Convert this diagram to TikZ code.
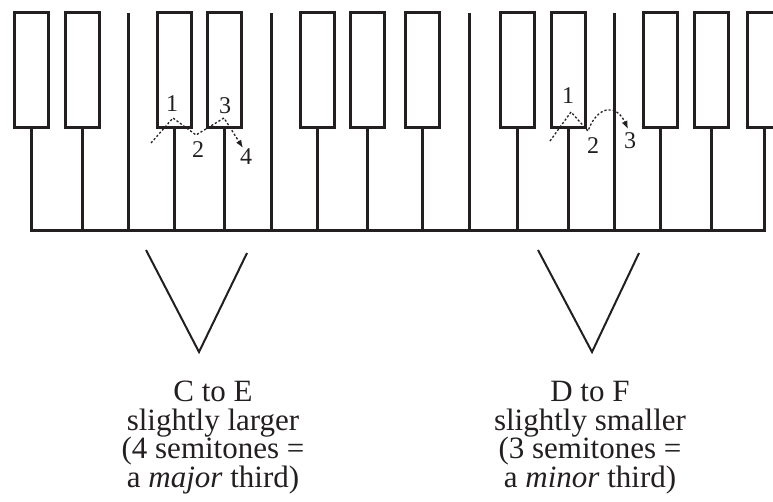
\documentclass[tikz,border=0pt]{standalone}
\usepackage{fontspec}
\setmainfont{Liberation Serif}
\usepackage{tikz}
\usetikzlibrary{arrows.meta}
\definecolor{keyink}{RGB}{35,31,32}

\begin{document}
\begin{tikzpicture}[x=1pt, y=-1pt,
    blackkey/.style={draw=keyink, line width=3pt, fill=white},
    keyline/.style={draw=keyink, line width=3pt, line cap=rect},
    fingerpath/.style={draw=keyink, line width=1.3pt, dash pattern=on 2.2pt off 2pt},
    vee/.style={draw=keyink, line width=2pt},
    fingernum/.style={text=keyink, inner sep=0pt, font=\fontsize{24}{24}\selectfont},
    caption/.style={text=keyink, inner sep=0pt, align=center, font=\fontsize{31}{28.5}\selectfont}]
    \clip (0,0) rectangle (773,502);

    % Keyboard: gaps between white keys with no black key
    \foreach \gx in {128,271,469,614}
        \draw[keyline] (\gx,15) -- (\gx,231);
    % black keys and the white key edges under them
    \foreach \kx in {31,82,174,224,317,367,422,517,568,660,711,764} {
        \draw[keyline] (\kx,128) -- (\kx,231);
        \draw[blackkey] (\kx-17,13) rectangle (\kx+17,128);
    }
    \draw[keyline] (31,231) -- (764,231);

    % C to E: four semitones
    \node[fingernum] (ce1) at (172,104) {1};
    \node[fingernum] (ce2) at (198,150) {2};
    \node[fingernum] (ce3) at (225,106) {3};
    \node[fingernum] (ce4) at (246,157) {4};
    \coordinate (cestart) at (151,143);
    \coordinate (cepeak1) at (173,118);
    \coordinate (cedip) at (196,135);
    \coordinate (cepeak2) at (224,118);
    \coordinate (ceend) at (243,148);
    \draw[fingerpath, -{Latex[length=8pt,width=6pt]}]
        (cestart) -- (cepeak1) -- (cedip) -- (cepeak2) -- (ceend);

    % D to F: three semitones
    \node[fingernum] (df1) at (568,96) {1};
    \node[fingernum] (df2) at (593,146) {2};
    \node[fingernum] (df3) at (630,141) {3};
    \coordinate (dfstart) at (550,141);
    \coordinate (dfpeak) at (571,112);
    \coordinate (dfdip) at (588,131);
    \coordinate (dfend) at (628,129);
    \draw[fingerpath, -{Latex[length=8pt,width=6pt]}]
        (dfstart) -- (dfpeak) -- (dfdip) .. controls (597,106) and (616,103) .. (dfend);

    % Pointers down to the captions
    \draw[vee] (146,250) -- (199,352) -- (247,253);
    \draw[vee] (538,250) -- (592,352) -- (639,253);

    \node[caption, anchor=base] (cecap) at (213,487)
        {C to E\\slightly larger\\(4 semitones =\\a \textit{major} third)};
    \node[caption, anchor=base] (dfcap) at (590,487)
        {D to F\\slightly smaller\\(3 semitones =\\a \textit{minor} third)};
\end{tikzpicture}
\end{document}
